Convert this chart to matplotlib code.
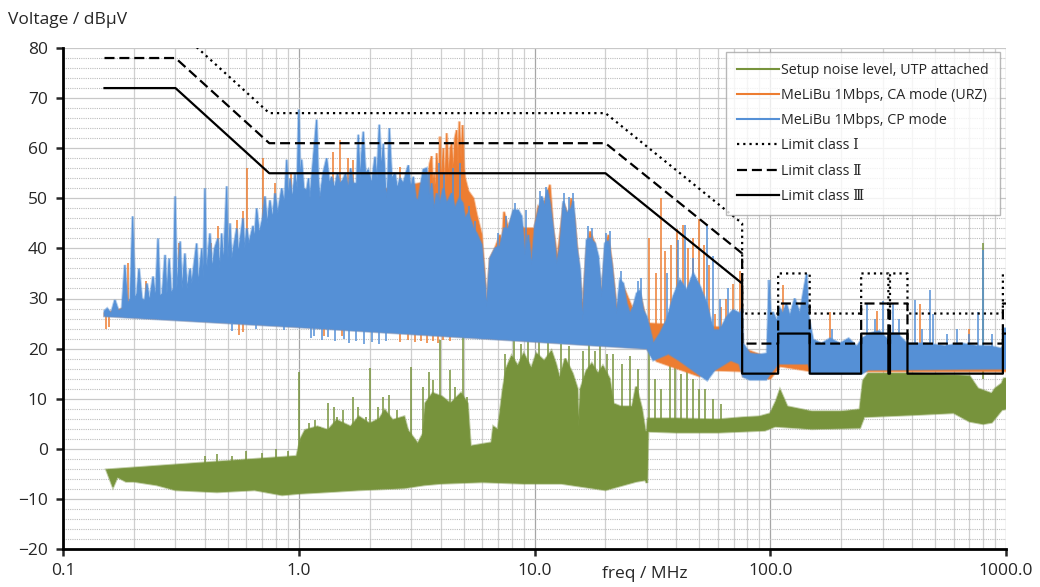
import matplotlib
matplotlib.use("Agg")
import matplotlib.pyplot as plt
from matplotlib.ticker import FixedLocator, LogLocator, MultipleLocator, NullFormatter
from matplotlib.lines import Line2D
import numpy as np

plt.rcParams['font.family'] = ['Open Sans', 'DejaVu Sans']

GREEN = '#77933c'
ORANGE = '#ed7d31'
BLUE = '#5590d6'

# ---- limit lines (MHz, dBuV) ----
lim_f = [0.15, 0.3, 0.75, 20, 76, 76, 108, 108, 147, 147, 243, 243, 317, 317,
         322, 322, 382, 382, 970, 970, 1000]
lim_class3 = [72, 72, 55, 55, 33, 15, 15, 23, 23, 15, 15, 23, 23, 15, 15, 23, 23, 15, 15, 23, 23]
lim_class2 = [78, 78, 61, 61, 39, 21, 21, 29, 29, 21, 21, 29, 29, 21, 21, 29, 29, 21, 21, 29, 29]
lim_class1 = [84, 84, 67, 67, 45, 27, 27, 35, 35, 27, 27, 35, 35, 27, 27, 35, 35, 27, 27, 35, 35]

# ---- MeLiBu CP mode (blue): outline of the spectrum, (MHz, dBuV) ----
cp_top = [(0.150, 27.5), (0.154, 28.0), (0.160, 27.0), (0.166, 29.7), (0.172, 27.5), (0.178, 28.0),
          (0.183, 36.7), (0.188, 29.0), (0.193, 30.0), (0.1975, 46.4), (0.202, 30.0), (0.206, 31.0),
          (0.210, 36.0), (0.216, 30.0), (0.222, 29.5), (0.227, 33.0), (0.233, 29.5), (0.241, 34.4),
          (0.247, 30.0), (0.253, 42.0), (0.258, 30.5), (0.264, 31.0), (0.271, 38.7), (0.276, 31.0),
          (0.282, 38.0), (0.288, 31.0), (0.294, 32.0), (0.299, 50.4), (0.304, 32.0), (0.314, 41.4),
          (0.320, 32.0), (0.329, 39.0), (0.336, 32.0), (0.346, 36.0), (0.352, 33.0), (0.369, 41.0),
          (0.375, 33.0), (0.388, 40.0), (0.394, 34.0), (0.400, 52.0), (0.406, 35.0), (0.420, 43.0),
          (0.430, 36.0), (0.440, 40.0), (0.454, 42.0), (0.462, 36.0), (0.471, 43.0), (0.480, 37.0),
          (0.495, 52.4), (0.501, 38.0), (0.511, 45.0), (0.520, 38.0), (0.546, 44.0), (0.555, 39.0),
          (0.580, 46.0), (0.590, 40.0), (0.602, 44.0), (0.615, 41.0), (0.640, 44.5), (0.650, 42.0),
          (0.663, 48.0), (0.680, 43.0), (0.703, 46.0), (0.719, 50.4), (0.735, 45.0), (0.755, 49.6),
          (0.775, 46.0), (0.793, 51.0), (0.815, 47.0), (0.847, 52.0), (0.870, 49.0), (0.889, 57.7),
          (0.905, 50.0), (0.918, 54.0), (0.940, 50.0), (0.964, 55.0), (0.985, 52.0), (1.000, 67.7),
          (1.015, 54.0), (1.029, 57.7), (1.050, 52.0), (1.081, 51.6), (1.100, 54.0), (1.116, 50.0),
          (1.140, 55.0), (1.191, 65.7), (1.210, 54.0), (1.230, 50.0), (1.270, 55.0), (1.314, 58.0),
          (1.350, 53.0), (1.380, 54.3), (1.420, 52.0), (1.460, 55.0), (1.496, 53.0), (1.541, 53.7),
          (1.580, 55.0), (1.623, 52.0), (1.660, 56.0), (1.704, 53.0), (1.761, 53.0), (1.789, 62.7),
          (1.820, 54.0), (1.878, 63.3), (1.920, 55.0), (1.972, 55.7), (2.040, 53.0), (2.106, 58.3),
          (2.150, 54.0), (2.196, 64.7), (2.240, 56.0), (2.284, 60.9), (2.330, 53.0), (2.361, 50.0),
          (2.390, 54.0), (2.422, 64.0), (2.480, 54.0), (2.560, 55.0), (2.620, 52.0), (2.689, 54.0),
          (2.777, 53.0), (2.916, 56.6), (2.990, 52.0), (3.061, 54.3), (3.140, 50.0), (3.214, 49.6),
          (3.300, 53.0), (3.375, 55.7), (3.489, 56.0), (3.580, 50.0), (3.664, 53.0), (3.750, 48.0),
          (3.847, 51.0), (3.973, 49.0), (4.103, 52.0), (4.242, 49.0), (4.455, 51.0), (4.600, 48.0),
          (4.797, 50.0), (4.960, 49.0), (5.073, 46.0), (5.239, 47.0), (5.501, 44.0), (5.686, 43.0),
          (5.970, 40.7), (6.166, 33.0), (6.269, 28.3), (6.475, 38.0), (6.799, 40.0), (7.140, 40.5),
          (7.424, 44.0), (7.743, 44.0), (8.130, 47.6), (8.537, 47.6), (8.820, 46.4), (9.110, 38.7),
          (9.410, 42.7), (9.730, 36.7), (10.05, 44.6), (10.38, 47.4), (10.73, 50.4), (11.08, 48.4),
          (11.33, 51.7), (11.63, 49.0), (12.01, 43.7), (12.42, 37.0), (12.83, 40.4), (13.25, 49.4),
          (13.69, 47.0), (14.29, 48.0), (14.61, 49.4), (15.10, 40.4), (15.60, 35.7), (16.02, 25.7),
          (16.65, 41.7), (17.20, 42.0), (18.06, 41.0), (18.65, 38.4), (19.28, 30.4), (19.91, 41.0),
          (20.56, 41.5), (21.26, 37.0), (22.32, 27.0), (23.06, 33.7), (23.81, 33.0), (24.61, 29.0),
          (25.42, 27.0), (26.25, 28.3), (27.13, 31.0), (28.02, 31.6), (28.94, 27.7), (29.92, 26.3),
          (30.90, 23.7), (31.92, 21.0), (34.07, 23.0), (36.38, 25.7), (38.80, 30.4), (41.42, 33.7),
          (44.21, 31.6), (47.16, 35.0), (50.35, 32.4), (53.77, 29.0), (57.35, 23.7), (61.22, 23.7),
          (65.37, 26.3), (69.70, 27.7), (74.42, 27.0), (76.00, 28.0), (76.70, 21.0), (82.0, 19.0),
          (90.0, 18.8), (96.9, 19.0), (97.8, 25.0), (98.8, 33.7), (100.5, 26.0), (102.7, 27.3),
          (106.5, 25.5), (110.0, 28.0), (113.3, 27.0), (117.0, 29.0), (121.3, 26.5), (127.0, 30.0),
          (133.7, 27.0), (138.0, 31.0), (142.7, 34.9), (145.0, 27.0), (147.4, 25.0), (151.8, 21.8),
          (165.0, 21.0), (179.3, 22.0), (197.6, 21.0), (215.0, 22.0), (233.3, 20.4), (245.0, 22.0),
          (265.0, 23.0), (290.0, 23.5), (312.0, 22.0), (322.0, 23.0), (345.0, 23.0), (380.0, 21.0),
          (450.0, 21.0), (550.0, 20.5), (650.0, 21.0), (750.0, 20.5), (850.0, 20.5), (950.0, 20.0),
          (975.0, 20.5), (985.0, 24.0), (1000.0, 24.0)]
cp_bottom = [(0.150, 26.5), (1.00, 24.3), (10.0, 21.4), (30.0, 20.0), (31.9, 17.7), (37.0, 19.0),
             (41.0, 17.7), (47.0, 15.7), (54.0, 13.7), (58.0, 15.7), (68.0, 17.7), (74.0, 17.0),
             (76.7, 14.4), (82.0, 13.8), (96.0, 13.8), (100.0, 15.0), (108.0, 17.0), (145.0, 17.0),
             (150.0, 15.0), (245.0, 15.0), (260.0, 15.8), (1000.0, 16.0)]
# single narrow lines: (MHz, from dBuV, to dBuV)
cp_spikes = [(0.52, 25.0, 23.6), (0.66, 24.8, 23.9), (0.87, 24.5, 23.7), (1.13, 24.2, 22.2),
             (1.16, 24.2, 22.5), (1.25, 24.1, 21.8), (1.33, 24.0, 22.3), (1.42, 24.0, 21.5),
             (1.55, 23.8, 22.0), (1.63, 23.8, 21.2), (1.75, 23.7, 21.6), (1.90, 23.6, 21.0),
             (2.05, 23.5, 21.4), (2.20, 23.4, 20.9), (2.35, 23.3, 21.5),
             (3.58, 48, 55.0), (3.95, 48, 57.0), (4.15, 48, 55.0), (4.50, 48, 56.0), (4.85, 48, 57.0),
             (5.30, 40, 48.5), (5.60, 38, 45.5), (7.00, 36, 43.0), (7.60, 38, 46.5), (8.30, 40, 49.0),
             (9.20, 38, 47.7), (10.6, 42, 51.5), (11.2, 42, 52.3), (13.4, 42, 51.0), (14.0, 42, 50.3),
             (14.5, 42, 51.0), (16.9, 36, 44.5), (17.6, 36, 44.0), (20.2, 35, 43.0), (20.9, 35, 43.5),
             (23.3, 28, 35.5), (27.5, 27, 33.5), (28.3, 27, 34.0),
             (36.4, 22, 35.0), (40.5, 26, 41.7), (43.5, 26, 44.6), (47.0, 26, 38.0), (53.8, 24, 44.6),
             (57.4, 22, 38.4), (61.0, 22, 30.0), (66.0, 22, 32.0), (182, 20, 24.0), (258, 21, 28.9),
             (277, 21, 26.0), (300.8, 21, 29.6), (333, 21, 28.9), (350, 21, 26.0), (411.2, 20, 29.7),
             (440, 20, 24.0), (476.1, 20, 31.7), (490, 20, 27.0), (560, 20, 23.0), (620, 20, 24.0),
             (700, 20, 23.0), (760.8, 20, 27.4), (798.8, 20, 39.7), (870, 20, 23.0)]

# ---- MeLiBu CA mode (orange) ----
ca_top = [(0.150, 27.0), (0.180, 28.0), (0.300, 30.0), (0.500, 33.0), (0.750, 40.0), (0.950, 45.0),
          (1.100, 50.0), (2.500, 52.0), (3.300, 53.0), (3.500, 52.0), (3.600, 57.0), (3.664, 58.4),
          (3.700, 52.0), (3.750, 55.0), (3.800, 51.0), (3.847, 59.0), (3.920, 52.0), (3.973, 62.3),
          (4.030, 53.0), (4.103, 60.0), (4.170, 52.0), (4.242, 63.0), (4.330, 54.0), (4.400, 60.0),
          (4.455, 61.0), (4.520, 55.0), (4.600, 62.0), (4.677, 63.6), (4.740, 56.0), (4.797, 65.3),
          (4.880, 58.0), (4.960, 64.6), (5.020, 56.0), (5.073, 54.0), (5.239, 51.4),
          (5.501, 50.0), (5.686, 46.7), (5.970, 42.7), (6.166, 34.0), (6.269, 28.3), (6.475, 38.0),
          (6.800, 40.0), (7.140, 42.7), (7.300, 41.0), (7.424, 47.3), (7.743, 44.0), (8.130, 47.0),
          (8.500, 45.0), (9.000, 44.0), (10.00, 44.0), (10.38, 48.4), (10.80, 48.0), (11.63, 52.7),
          (12.00, 44.0), (12.50, 38.0), (13.30, 49.0), (14.00, 46.0), (14.29, 50.0), (14.80, 46.0),
          (15.10, 41.0), (16.00, 28.0), (16.65, 40.0), (17.20, 43.4), (18.00, 41.0), (19.30, 31.0),
          (20.00, 40.0), (20.56, 42.7), (21.30, 37.0), (22.30, 28.0), (24.00, 32.0), (26.00, 28.0),
          (28.00, 31.0), (30.00, 25.0), (76.00, 24.0), (76.70, 20.0), (100.0, 18.0), (1000.0, 18.0)]
ca_bottom = [(0.150, 26.6), (1.00, 24.4), (10.0, 21.5), (30.0, 20.1), (33.0, 17.5), (50.0, 14.5),
             (58.0, 15.7), (76.0, 15.5), (76.7, 14.5), (100.0, 14.0), (110.0, 16.5), (150.0, 15.5),
             (1000.0, 15.5)]
ca_spikes = [(0.152, 26.5, 24.0), (0.156, 26.5, 24.3), (0.56, 25.0, 22.7), (0.58, 25.0, 23.3),
             (1.28, 24.0, 22.5), (1.52, 23.8, 22.6), (2.70, 23.0, 21.4), (2.90, 23.0, 21.7),
             (3.10, 23.0, 21.3), (3.30, 22.9, 21.6), (3.50, 22.8, 21.2), (3.70, 22.8, 21.5),
             (3.90, 22.7, 21.2), (4.10, 22.7, 21.8), (4.40, 22.6, 21.5),
             (0.189, 28, 37.0), (0.225, 29, 33.5), (0.309, 30, 41.0), (0.423, 33, 41.0), (0.456, 34, 44.5),
             (0.546, 36, 45.7), (0.580, 37, 47.5), (0.6015, 38, 56.0), (0.703, 42, 58.0), (0.793, 45, 53.0),
             (0.930, 48, 55.0), (1.402, 50, 59.3), (1.496, 50, 61.7), (1.623, 50, 58.0), (1.704, 50, 57.7),
             (2.689, 50, 56.3), (30.7, 22, 42.0), (32.7, 22, 35.0), (34.3, 22, 50.0), (35.8, 22, 39.4),
             (37.8, 22, 40.7), (40.1, 22, 43.9), (42.8, 22, 44.6), (44.9, 22, 40.0), (46.9, 22, 42.0),
             (50.06, 22, 45.9), (52.4, 22, 40.7), (55.2, 22, 36.7), (58.3, 20, 27.0), (61.7, 20, 28.3),
             (65.0, 20, 30.0), (69.3, 22, 32.9), (74.4, 22, 35.5), (76.0, 22, 32.7), (113.3, 22, 32.6),
             (179.3, 18, 27.3), (283.7, 18, 27.5), (431.8, 18, 29.0), (700.0, 18, 24.0)]

# ---- setup noise level (green) ----
gn_top = [(0.153, -4.2), (0.98, -1.5), (1.02, 2.0), (1.065, 3.7), (1.20, 4.4), (1.33, 3.7), (1.45, 5.7),
          (1.66, 4.4), (1.80, 6.4), (2.00, 5.0), (2.20, 6.0), (2.32, 7.7), (2.50, 5.7), (2.80, 6.4),
          (2.90, 3.7), (3.20, 1.0), (3.37, 3.0), (3.45, 9.1), (3.70, 11.1), (4.05, 10.4), (4.40, 9.0),
          (4.88, 11.1), (5.20, 9.0), (5.35, 0.5), (6.58, 1.2), (6.70, 4.4), (7.00, 3.75), (7.36, 12.0),
          (7.60, 16.0), (8.00, 18.5), (8.50, 16.5), (9.00, 19.0), (9.70, 16.0), (10.2, 19.0), (11.0, 17.5),
          (11.8, 19.5), (12.3, 17.0), (12.8, 14.0), (13.5, 18.0), (14.5, 15.0), (15.2, 12.0), (15.4, 4.4),
          (15.7, 12.0), (16.6, 15.5), (17.5, 17.0), (18.6, 15.0), (19.5, 16.5), (20.8, 14.0), (21.6, 9.0),
          (23.2, 8.4), (26.0, 8.4), (27.0, 12.4), (28.5, 8.0), (29.5, 3.5), (30.0, 3.5), (30.3, 6.0),
          (40.0, 6.0), (60.0, 5.8), (76.0, 6.2), (90.0, 6.4), (100.0, 7.0), (106.0, 9.5), (110.0, 11.7),
          (118.0, 8.4), (150.0, 7.4), (200.0, 7.4), (240.0, 7.8), (248.0, 13.6), (260.0, 15.0),
          (400.0, 15.0), (700.0, 14.5), (760.0, 12.0), (870.0, 11.0), (900.0, 12.0), (960.0, 13.0),
          (980.0, 14.0), (1000.0, 14.0)]
gn_bottom = [(0.153, -4.2), (0.163, -7.6), (0.170, -5.6), (0.185, -6.5), (0.200, -6.5), (0.250, -7.2),
             (0.300, -8.2), (0.450, -8.6), (0.650, -8.2), (0.850, -9.2), (1.00, -8.9), (1.30, -8.6),
             (1.80, -8.2), (2.80, -7.8), (3.40, -7.2), (4.00, -6.9), (6.00, -6.6), (9.00, -6.9),
             (13.0, -6.9), (20.0, -8.2), (27.0, -6.5), (29.5, -6.2), (30.0, -6.8), (30.3, 3.5),
             (40.0, 3.3), (60.0, 3.3), (76.0, 3.5), (95.0, 3.7), (105.0, 4.5), (150.0, 4.0),
             (240.0, 4.2), (250.0, 6.4), (400.0, 6.8), (600.0, 7.2), (700.0, 5.5), (800.0, 5.0),
             (870.0, 5.3), (960.0, 7.8), (1000.0, 8.0)]
gn_spikes = [(0.40, -3.0, -1.5), (0.45, -3.0, -1.0), (0.52, -3.0, -1.5), (0.60, -2.8, -0.5),
             (0.70, -2.5, -0.8), (0.80, -2.3, 0.0), (0.90, -2.0, -0.5), (1.00, -2.0, 15.4),
             (1.105, 2, 5.1), (1.169, 2, 5.75), (1.236, 2, 4.4), (1.331, 2, 9.1), (1.407, 2, 8.4),
             (1.46, 2, 6.4), (1.544, 2, 7.7), (1.694, 2, 10.4), (1.792, 2, 8.4), (1.929, 2, 6.4),
             (2.00, 2, 16.1), (2.158, 2, 8.4), (2.28, 2, 10.4), (2.41, 2, 10.7), (2.60, 2, 7.7),
             (2.99, 2, 16.4), (3.37, 2, 12.4), (3.56, 2, 15.4), (3.70, 2, 13.7), (3.98, 2, 21.7),
             (4.37, 2, 15.7), (4.62, 2, 12.4), (4.98, 2, 22.4), (5.17, 2, 10.4),
             (7.50, 10, 19.0), (8.20, 10, 21.7), (8.80, 10, 21.0), (9.40, 10, 21.7), (10.5, 10, 21.7),
             (11.4, 10, 21.5), (13.0, 10, 21.0), (14.0, 10, 20.5), (16.0, 10, 19.5), (17.0, 10, 21.0),
             (18.0, 10, 19.5), (19.0, 10, 20.5), (20.3, 10, 19.0),
             (21.5, 8.0, 19.0), (23.5, 8.0, 17.0), (25.5, 8.0, 18.5), (27.5, 8.0, 16.0), (30.5, 5.0, 20.0),
             (32.5, 5.0, 14.0), (34.5, 5.0, 12.0), (37.5, 5.0, 17.0), (39.5, 5.0, 19.0), (42.0, 5.0, 15.0),
             (44.5, 5.0, 16.0), (47.0, 5.0, 14.0), (50.0, 5.0, 12.0), (53.0, 5.0, 12.0), (57.0, 5.0, 10.0),
             (62.0, 5.0, 9.0), (798.8, 14.0, 41.0)]

series_labels = ['Setup noise level, UTP attached', 'MeLiBu 1Mbps, CA mode (URZ)',
                 'MeLiBu 1Mbps, CP mode', 'Limit class \u2160', 'Limit class \u2161',
                 'Limit class \u2162']
x_ticks = [0.1, 1, 10, 100, 1000]
x_ticklabels = ['0.1', '1.0', '10.0', '100.0', '1000.0']


fig = plt.figure(figsize=(10.4, 5.87), dpi=100)
ax = fig.add_axes([63 / 1040, 1 - 549 / 587, 943 / 1040, 501 / 587])


def draw_trace(top, bottom, spikes, color, z):
    tf, tv = np.array(top).T
    bf, bv = np.array(bottom).T
    xs = np.r_[tf, bf[::-1]]
    ys = np.r_[tv, bv[::-1]]
    # soft fringe like the dense sweep lines, then the solid body
    ax.fill(xs, ys, facecolor='none', edgecolor=color, lw=2.0, alpha=0.45, zorder=z)
    ax.fill(xs, ys, facecolor=color, edgecolor=color, lw=0.6, zorder=z)
    sf, slo, shi = np.array(spikes).T
    ax.vlines(sf, slo, shi, color=color, lw=1.1, zorder=z)


draw_trace(gn_top, gn_bottom, gn_spikes, GREEN, 2)
draw_trace(ca_top, ca_bottom, ca_spikes, ORANGE, 3)
draw_trace(cp_top, cp_bottom, cp_spikes, BLUE, 4)

ax.plot(lim_f, lim_class1, color='black', lw=1.6, ls=(0, (1, 1.8)), zorder=6)
ax.plot(lim_f, lim_class2, color='black', lw=1.6, ls=(0, (4.5, 2.2)), zorder=6)
ax.plot(lim_f, lim_class3, color='black', lw=1.6, zorder=6)

ax.set_xscale('log')
ax.set_xlim(0.1, 1000)
ax.set_ylim(-20, 80)
ax.xaxis.set_major_locator(FixedLocator(x_ticks))
ax.set_xticklabels(x_ticklabels)
ax.xaxis.set_minor_locator(LogLocator(base=10, subs=range(2, 10)))
ax.xaxis.set_minor_formatter(NullFormatter())
ax.yaxis.set_major_locator(MultipleLocator(10))
ax.yaxis.set_minor_locator(MultipleLocator(2))

ax.set_axisbelow(True)
ax.grid(which='major', axis='x', color='#a6a6a6', lw=0.9)
ax.grid(which='minor', axis='x', color='#cfcfcf', lw=0.9)
ax.grid(which='major', axis='y', color='#c8c8c8', lw=0.9)
ax.grid(which='minor', axis='y', color='#bdbdbd', lw=0.8, ls=(0, (1, 1)))

for side in ['top', 'right']:
    ax.spines[side].set_visible(False)
for side in ['left', 'bottom']:
    ax.spines[side].set_linewidth(2)
ax.tick_params(which='major', direction='out', length=5, width=1.8, labelsize=12.5,
               colors='#262626', pad=5)
ax.tick_params(which='minor', length=0)
ax.tick_params(axis='y', pad=6)

fig.text(8 / 1040, 1 - 20 / 587, 'Voltage / dB\u03bcV', fontsize=12.5, color='#262626',
         ha='left', va='center')
fig.text(645 / 1040, 1 - 574 / 587, 'freq / MHz', fontsize=12.5, color='#262626',
         ha='center', va='center')

handles = [Line2D([], [], color=GREEN, lw=1.5), Line2D([], [], color=ORANGE, lw=1.5),
           Line2D([], [], color=BLUE, lw=1.5),
           Line2D([], [], color='black', lw=1.6, ls=(0, (1, 1.8))),
           Line2D([], [], color='black', lw=1.6, ls=(0, (4.5, 2.2))),
           Line2D([], [], color='black', lw=1.6)]
leg = ax.legend(handles, series_labels, loc='upper right', bbox_to_anchor=(0.9936, 0.992),
                borderaxespad=0, handlelength=2.9, handletextpad=0.15,
                labelspacing=0.7, frameon=True, fancybox=False, borderpad=0.8,
                prop={'family': ['Open Sans', 'DejaVu Serif'], 'size': 10.3})
leg.get_frame().set_edgecolor('#a6a6a6')
leg.get_frame().set_linewidth(1.0)
leg.set_zorder(10)
for t in leg.get_texts():
    t.set_color('#262626')

fig.savefig('out.png', dpi=100)
